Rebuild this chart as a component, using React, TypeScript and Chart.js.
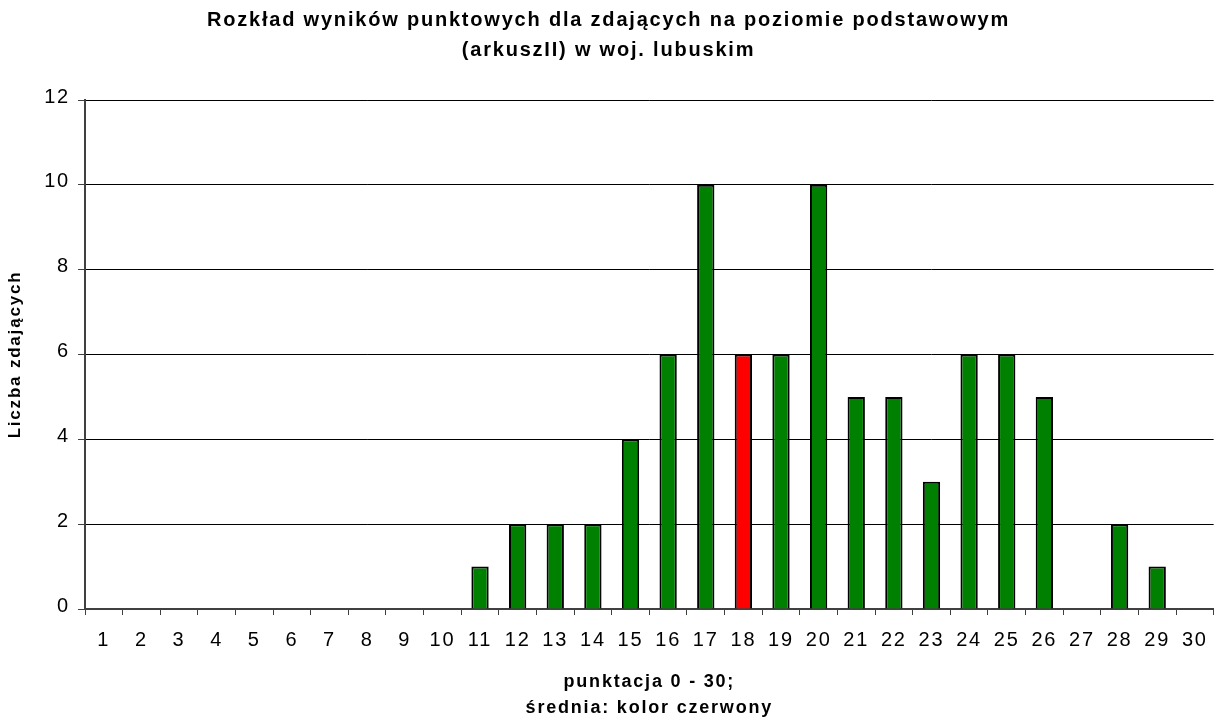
import React, { useEffect, useRef } from "react";
import { Chart, registerables } from "chart.js";

Chart.register(...registerables);

const titleLines = [
  "Rozkład wyników punktowych dla zdających na poziomie podstawowym",
  "(arkuszII) w woj. lubuskim",
];
const yAxisTitle = "Liczba zdających";
const xAxisTitleLines = ["punktacja 0 - 30;", "średnia: kolor czerwony"];

const scores = [
  "1", "2", "3", "4", "5", "6", "7", "8", "9", "10",
  "11", "12", "13", "14", "15", "16", "17", "18", "19", "20",
  "21", "22", "23", "24", "25", "26", "27", "28", "29", "30",
];
const counts = [
  0, 0, 0, 0, 0, 0, 0, 0, 0, 0,
  1, 2, 2, 2, 4, 6, 10, 6, 6, 10,
  5, 5, 3, 6, 6, 5, 0, 2, 1, 0,
];
const meanScore = "18";
const yMin = 0;
const yMax = 12;
const yStep = 2;

const FONT = "'Liberation Sans', Arial, Helvetica, sans-serif";
const GREEN = "#008000";
const RED = "#FF0000";

const spacingPlugin = {
  id: "letterSpacing",
  beforeDraw(chart: any) {
    try {
      (chart.ctx as any).letterSpacing = "1.8px";
    } catch (e) {}
  },
};

export default function App() {
  const ref = useRef<HTMLCanvasElement | null>(null);

  useEffect(() => {
    if (!ref.current) return;
    const chart = new Chart(ref.current, {
      type: "bar",
      data: {
        labels: scores,
        datasets: [
          {
            data: counts,
            backgroundColor: scores.map((s) => (s === meanScore ? RED : GREEN)),
            borderColor: "#000000",
            borderWidth: 2,
            categoryPercentage: 1,
            barPercentage: 0.46,
          },
        ],
      },
      options: {
        responsive: false,
        animation: false,
        layout: { padding: { left: 0, right: 2, top: 0, bottom: 0 } },
        plugins: {
          legend: { display: false },
          tooltip: { enabled: false },
          title: {
            display: true,
            text: titleLines,
            color: "#000",
            font: { family: FONT, size: 20, weight: "bold", lineHeight: 1.5 },
            padding: { top: 5, bottom: 35 },
          },
        },
        scales: {
          x: {
            afterFit(scale: any) {
              scale.height = 114;
            },
            grid: {
              display: true,
              drawOnChartArea: false,
              drawTicks: true,
              tickLength: 6,
              color: "#404040",
              offset: true,
            },
            border: { display: true, color: "#404040", width: 2 },
            ticks: {
              color: "#000",
              font: { family: FONT, size: 20 },
              padding: 13,
              autoSkip: false,
              maxRotation: 0,
              minRotation: 0,
            },
            title: {
              display: true,
              text: xAxisTitleLines,
              color: "#000",
              font: { family: FONT, size: 18, weight: "bold", lineHeight: 1.45 },
              padding: { top: 0, bottom: 2 },
            },
          },
          y: {
            min: yMin,
            max: yMax,
            afterFit(scale: any) {
              scale.width = 85;
            },
            grid: {
              color: "#000",
              lineWidth: 1,
              drawTicks: true,
              tickLength: 7,
              tickColor: "#404040",
            },
            border: { display: true, color: "#404040", width: 2 },
            ticks: {
              stepSize: yStep,
              color: "#000",
              font: { family: FONT, size: 20 },
              padding: 8,
              labelOffset: -3,
            },
            title: {
              display: true,
              text: yAxisTitle,
              color: "#000",
              font: { family: FONT, size: 17, weight: "bold", lineHeight: 1.2 },
              padding: { top: 5, bottom: 0 },
            },
          },
        },
      },
      plugins: [spacingPlugin],
    } as any);
    return () => chart.destroy();
  }, []);

  return (
    <div
      style={{
        position: "fixed",
        left: 0,
        top: 0,
        width: 1219,
        height: 723,
        background: "#fff",
      }}
    >
      <canvas ref={ref} width={1219} height={723} style={{ display: "block" }} />
    </div>
  );
}
